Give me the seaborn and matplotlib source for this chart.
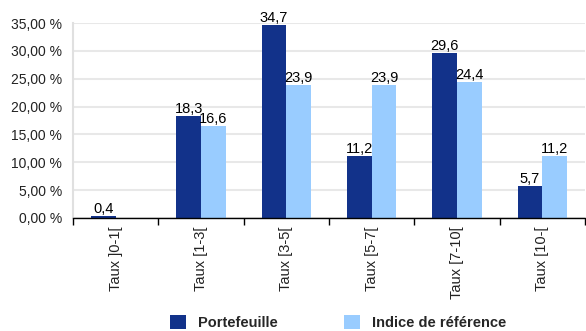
import matplotlib
matplotlib.use("Agg")
import matplotlib.pyplot as plt
from matplotlib.patches import Patch
from matplotlib.ticker import FixedLocator
import seaborn as sns
import pandas as pd

categories = ["Taux ]0-1[", "Taux [1-3[", "Taux [3-5[", "Taux [5-7[", "Taux [7-10[", "Taux [10-["]
portefeuille = [0.4, 18.3, 34.7, 11.2, 29.6, 5.7]
indice = [0.0, 16.6, 23.9, 23.9, 24.4, 11.2]
series_names = ["Portefeuille", "Indice de référence"]
y_ticks = [0, 5, 10, 15, 20, 25, 30, 35]

colors = ["#12328A", "#99CCFF"]

df = pd.DataFrame({
    "cat": categories * 2,
    "val": portefeuille + indice,
    "serie": [series_names[0]] * len(categories) + [series_names[1]] * len(categories),
})

sns.set_theme(style="white")
plt.rcParams["font.family"] = ["Liberation Sans", "DejaVu Sans"]

fig = plt.figure(figsize=(5.86, 3.31), dpi=100)
ax = fig.add_axes([0.1246, 0.3414, 0.8737, 0.5891])

sns.barplot(data=df, x="cat", y="val", hue="serie", order=categories,
            hue_order=series_names, palette=colors, width=0.575,
            saturation=1, linewidth=0, ax=ax, legend=False)

# value labels above each bar (skip empty bars)
for container, vals in zip(ax.containers, [portefeuille, indice]):
    labels = [f"{v:.1f}".replace(".", ",") if v > 0 else "" for v in vals]
    ax.bar_label(container, labels=labels, padding=0, fontsize=10.5, color="black")

ax.set_ylim(0, 35)
ax.set_xlim(-0.5, len(categories) - 0.5)
ax.set_yticks(y_ticks)
ax.set_yticklabels([f"{t:.2f}".replace(".", ",") + " %" for t in y_ticks],
                   fontsize=10, color="#222222")
ax.yaxis.grid(True, color="#E8E8E8", linewidth=1.5)
ax.set_axisbelow(True)
ax.tick_params(axis="y", length=0, pad=8)

ax.set_xticks(range(len(categories)))
ax.set_xticklabels(categories, rotation=90, fontsize=10.5, color="#222222")
ax.tick_params(axis="x", which="major", length=0, pad=6)
ax.xaxis.set_minor_locator(FixedLocator([i - 0.5 for i in range(len(categories) + 1)]))
ax.tick_params(axis="x", which="minor", length=5, width=1, color="black", bottom=True)
ax.set_xlabel("")
ax.set_ylabel("")

for s in ["top", "right"]:
    ax.spines[s].set_visible(False)
ax.spines["left"].set_color("#E0E0E0")
ax.spines["left"].set_linewidth(1.5)
ax.spines["bottom"].set_color("black")
ax.spines["bottom"].set_linewidth(1)

handles = [Patch(facecolor=c, edgecolor="none") for c in colors]
fig.legend(handles, series_names, loc="center", bbox_to_anchor=(0.577, 0.027),
           ncol=2, frameon=False, prop={"weight": "bold", "size": 10.5},
           handlelength=1.1, handleheight=1.1, columnspacing=4.5, handletextpad=0.82,
           borderpad=0)

fig.savefig("out.png", dpi=100)
